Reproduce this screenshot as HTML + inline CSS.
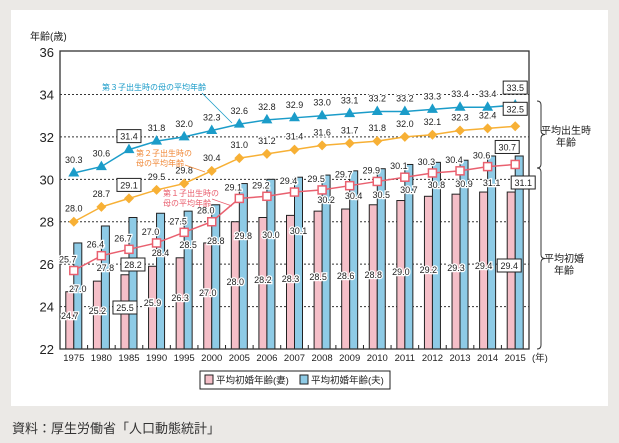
<!DOCTYPE html>
<html><head><meta charset="utf-8"><style>
html,body{margin:0;padding:0;background:#ebe9e6;}
svg{display:block;font-family:"Liberation Sans","Noto Sans CJK JP",sans-serif;}
</style></head><body>
<svg width="619" height="443" viewBox="0 0 619 443" xmlns="http://www.w3.org/2000/svg">
<rect x="0" y="0" width="619" height="443" fill="#ebe9e6"/>
<rect x="11" y="10" width="597" height="396" fill="#ffffff"/>
<g id="g"></g>
<text x="12" y="433" font-size="13" fill="#333">資料：厚生労働省「人口動態統計」</text>
</svg>
<script>
const NS="http://www.w3.org/2000/svg",g=document.getElementById('g');
function el(t,a,txt){const e=document.createElementNS(NS,t);for(const k in a)e.setAttribute(k,a[k]);if(txt!==undefined)e.textContent=txt;g.appendChild(e);return e;}
const L=60,R=529,T=51,B=349,N=17,W=(R-L)/N;
const Y=v=>B-(v-22)*21.21;
const X=i=>L+W*(i+0.5);
const yrs=["1975","1980","1985","1990","1995","2000","2005","2006","2007","2008","2009","2010","2011","2012","2013","2014","2015"];
const wife=[24.7,25.2,25.5,25.9,26.3,27.0,28.0,28.2,28.3,28.5,28.6,28.8,29.0,29.2,29.3,29.4,29.4];
const hus=[27.0,27.8,28.2,28.4,28.5,28.8,29.8,30.0,30.1,30.2,30.4,30.5,30.7,30.8,30.9,31.1,31.1];
const c1=[25.7,26.4,26.7,27.0,27.5,28.0,29.1,29.2,29.4,29.5,29.7,29.9,30.1,30.3,30.4,30.6,30.7];
const c2=[28.0,28.7,29.1,29.5,29.8,30.4,31.0,31.2,31.4,31.6,31.7,31.8,32.0,32.1,32.3,32.4,32.5];
const c3=[30.3,30.6,31.4,31.8,32.0,32.3,32.6,32.8,32.9,33.0,33.1,33.2,33.2,33.3,33.4,33.4,33.5];
for(let v=24;v<=34;v+=2)el('line',{x1:L,x2:R,y1:Y(v),y2:Y(v),stroke:'#333','stroke-width':1,'stroke-dasharray':'2,2'});
for(let v=22;v<=36;v+=2)el('text',{x:L-6,y:Y(v)+5,'font-size':13,'text-anchor':'end',fill:'#222'},String(v));
el('text',{x:30,y:40,'font-size':10,fill:'#222'},'年齢(歳)');
for(let i=0;i<N;i++){const c=X(i);
el('rect',{x:c-8,y:Y(wife[i]),width:8,height:B-Y(wife[i]),fill:'#f5bfc8',stroke:'#222','stroke-width':1});
el('rect',{x:c,y:Y(hus[i]),width:8,height:B-Y(hus[i]),fill:'#8ecbe6',stroke:'#222','stroke-width':1});
el('text',{x:c,y:361,'font-size':9.5,'text-anchor':'middle',fill:'#222'},yrs[i]);
el('line',{x1:L+W*i,x2:L+W*i,y1:B,y2:B-4,stroke:'#222'});
}
el('text',{x:532,y:361,'font-size':9.5,fill:'#222'},'(年)');
el('rect',{x:L,y:T,width:R-L,height:B-T,fill:'none',stroke:'#333','stroke-width':1.3});
function lab(x,y,t,box,col){if(box){el('rect',{x:x-12,y:y-10,width:24,height:13,fill:'#fff',stroke:'#222','stroke-width':1});}
const s={x:x,y:y,'font-size':9,'text-anchor':'middle',fill:col||'#222'};
if(!box){s.stroke='#fff';s['stroke-width']=2.5;s['paint-order']='stroke';}
el('text',s,t);}
const wy=[319,314,311,306,301,296,285,283,282,280,279,278,275,273,271,269,269];
const hy=[292,271,268,256,248,244,239,238,234,203,199,198,193,188,187,186,186];
for(let i=0;i<N;i++){const c=X(i);
lab(i==16?c-6:c-4,wy[i],wife[i].toFixed(1),i==2||i==16);
lab(i==16?c+8:c+4,hy[i],hus[i].toFixed(1),i==2||i==16);}
function series(d,col,mk,dy,boxIdx){
el('polyline',{points:d.map((v,i)=>X(i)+','+Y(v)).join(' '),fill:'none',stroke:col,'stroke-width':1.5});
d.forEach((v,i)=>{const x=X(i),y=Y(v);
if(mk=='sq')el('rect',{x:x-4,y:y-4,width:8,height:8,fill:'#fff',stroke:col,'stroke-width':1.5});
if(mk=='dia')el('polygon',{points:`${x},${y-5} ${x+5},${y} ${x},${y+5} ${x-5},${y}`,fill:col});
if(mk=='tri')el('polygon',{points:`${x},${y-6} ${x+5.5},${y+3.5} ${x-5.5},${y+3.5}`,fill:col});
const bx=boxIdx.includes(i);
let lx=x-(mk=='sq'?6:0),ly=y-dy;
if(i==16&&mk=='sq'){lx=x-8;ly=y-14;}
if(i==16&&mk!='sq'){ly=y-14;}
lab(lx,ly,v.toFixed(1),bx);});}
series(c3,'#1b9cc9','tri',10,[2,16]);
series(c2,'#f7b035','dia',10,[2,16]);
series(c1,'#e9606f','sq',8,[16]);
el('text',{x:102,y:90,'font-size':8,fill:'#1b9cc9'},'第３子出生時の母の平均年齢');
el('line',{x1:202,y1:93,x2:232,y2:123,stroke:'#1b9cc9','stroke-width':0.8});
el('text',{x:136,y:156,'font-size':8,fill:'#f08a3a'},'第２子出生時の');
el('text',{x:136,y:166,'font-size':8,fill:'#f08a3a'},'母の平均年齢');
el('line',{x1:185,y1:165,x2:205,y2:172,stroke:'#f08a3a','stroke-width':0.8});
el('text',{x:163,y:196,'font-size':8,fill:'#e9606f'},'第１子出生時の');
el('text',{x:163,y:206,'font-size':8,fill:'#e9606f'},'母の平均年齢');
el('line',{x1:212,y1:199,x2:232,y2:206,stroke:'#e9606f','stroke-width':0.8});
function brace(y1,y2){const m=(y1+y2)/2,x=537;
el('path',{d:`M${x},${y1} q4,0 4,4 L${x+4},${m-4} q0,4 4,4 q-4,0 -4,4 L${x+4},${y2-4} q0,4 -4,4`,fill:'none',stroke:'#333','stroke-width':1});}
brace(101,168);brace(168,349);
el('text',{x:566,y:134,'font-size':10,'text-anchor':'middle',fill:'#222'},'平均出生時');
el('text',{x:566,y:146,'font-size':10,'text-anchor':'middle',fill:'#222'},'年齢');
el('text',{x:564,y:262,'font-size':10,'text-anchor':'middle',fill:'#222'},'平均初婚');
el('text',{x:564,y:274,'font-size':10,'text-anchor':'middle',fill:'#222'},'年齢');
el('rect',{x:200,y:371,width:190,height:18,fill:'#fff',stroke:'#222','stroke-width':1});
el('rect',{x:205,y:375,width:8,height:9,fill:'#f5bfc8',stroke:'#222'});
el('text',{x:216,y:383.5,'font-size':9.5,fill:'#222'},'平均初婚年齢(妻)');
el('rect',{x:300,y:375,width:8,height:9,fill:'#8ecbe6',stroke:'#222'});
el('text',{x:311,y:383.5,'font-size':9.5,fill:'#222'},'平均初婚年齢(夫)');
</script>
</body></html>
